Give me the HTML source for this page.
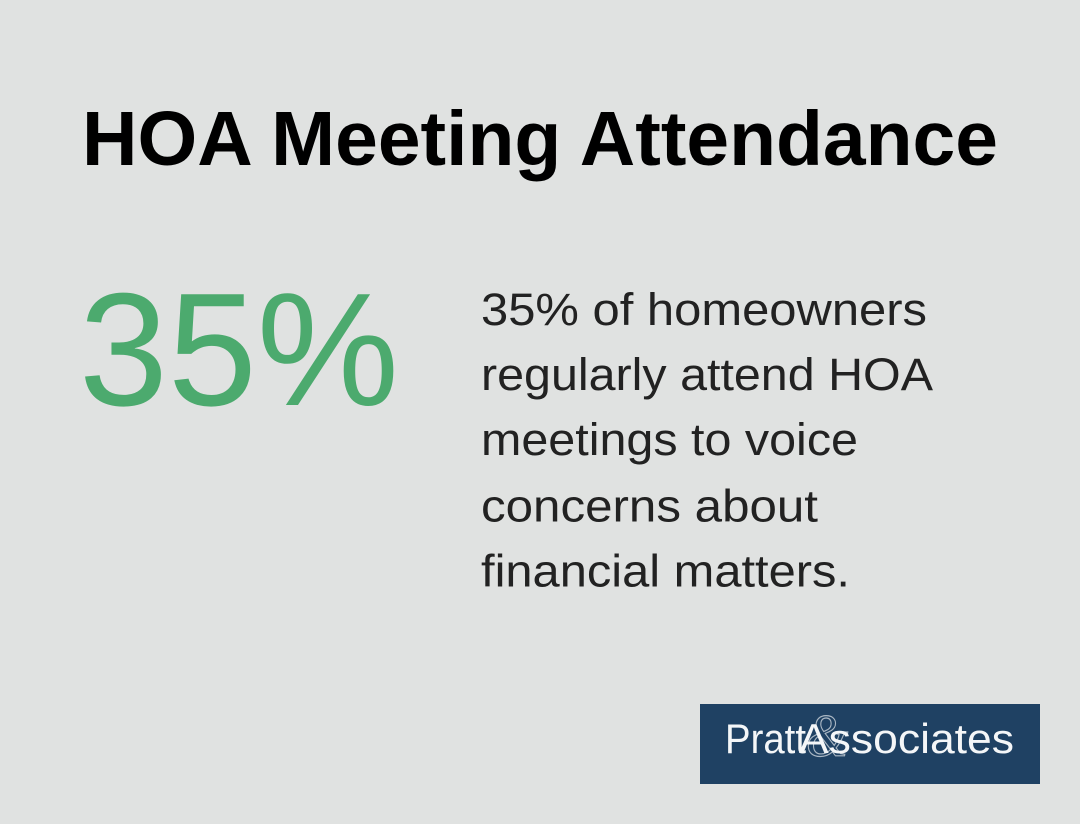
<!DOCTYPE html>
<html>
<head>
<meta charset="utf-8">
<style>
  html, body { margin: 0; padding: 0; }
  body { width: 1080px; height: 824px; background: #e0e2e1; overflow: hidden; }
  svg { display: block; }
</style>
</head>
<body>
<svg width="1080" height="824" viewBox="0 0 1080 824" xmlns="http://www.w3.org/2000/svg">
  <rect x="0" y="0" width="1080" height="824" fill="#e0e2e1"/>
  <text x="82" y="165" font-family="Liberation Sans, Arial, sans-serif" font-weight="bold" font-size="77" fill="#000" textLength="916" lengthAdjust="spacingAndGlyphs">HOA Meeting Attendance</text>

  <text x="79" y="405" font-family="Liberation Sans, Arial, sans-serif" font-size="161" fill="#4caa6e" textLength="320" lengthAdjust="spacingAndGlyphs">35%</text>

  <g font-family="Liberation Sans, Arial, sans-serif" font-size="45" fill="#222222">
    <text x="481" y="325" textLength="446" lengthAdjust="spacingAndGlyphs">35% of homeowners</text>
    <text x="481" y="390" textLength="452" lengthAdjust="spacingAndGlyphs">regularly attend HOA</text>
    <text x="481" y="455" textLength="377" lengthAdjust="spacingAndGlyphs">meetings to voice</text>
    <text x="481" y="521.5" textLength="337" lengthAdjust="spacingAndGlyphs">concerns about</text>
    <text x="481" y="586.5" textLength="369" lengthAdjust="spacingAndGlyphs">financial matters.</text>
  </g>

  <rect x="700" y="704" width="340" height="80" fill="#1f4163"/>
  <text x="806" y="756" font-family="Liberation Serif, serif" font-style="italic" font-size="60" fill="none" stroke="#c3ccd5" stroke-width="1.2" stroke-opacity="0.85" textLength="42" lengthAdjust="spacingAndGlyphs">&amp;</text>
  <g font-family="Liberation Sans Narrow, Liberation Sans, Arial, sans-serif" font-size="42" fill="#f4f6f8">
    <text x="725" y="753" textLength="81" lengthAdjust="spacingAndGlyphs">Pratt</text>
    <text x="799" y="753" textLength="215" lengthAdjust="spacingAndGlyphs">Associates</text>
  </g>
</svg>
</body>
</html>
